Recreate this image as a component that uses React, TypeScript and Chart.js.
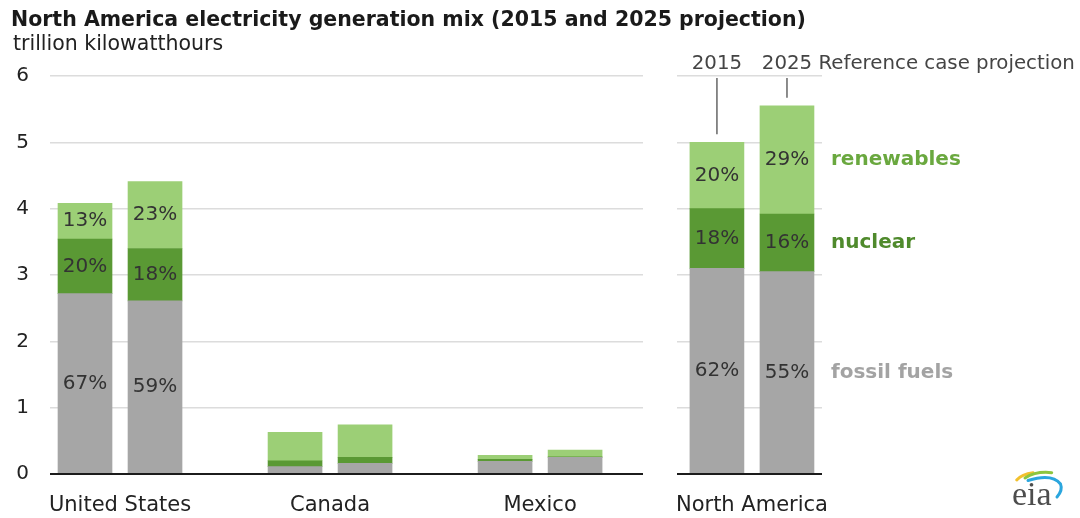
import React, { useEffect, useRef } from 'react';
import { Chart, registerables } from 'chart.js';

Chart.register(...registerables);

const FONT = "'DejaVu Sans', 'Liberation Sans', sans-serif";

// ---------- data ----------
const countries = ['United States', 'Canada', 'Mexico'];
const years = ['2015', '2025'];
// bar order: US 2015, US 2025, Canada 2015, Canada 2025, Mexico 2015, Mexico 2025
const fossil = [2.72, 2.61, 0.11, 0.16, 0.19, 0.25];
const nuclear = [0.82, 0.79, 0.09, 0.09, 0.03, 0.01];
const renewables = [0.54, 1.01, 0.43, 0.49, 0.06, 0.1];
const showShares = [true, true, false, false, false, false];

const totalRegion = ['North America'];
const fossilNA = [3.1, 3.05];
const nuclearNA = [0.9, 0.87];
const renewablesNA = [1.0, 1.63];
const showSharesNA = [true, true];

const seriesNames = ['fossil fuels', 'nuclear', 'renewables'];
const seriesColors = ['#a6a6a6', '#5a9934', '#9ccf76'];
const seriesTextColors = ['#a3a3a3', '#4f8a2c', '#6aa83f'];
const yTicks = [0, 1, 2, 3, 4, 5, 6];
const projectionNote = 'Reference case projection';
const titleText = 'North America electricity generation mix (2015 and 2025 projection)';
const unitText = 'trillion kilowatthours';

// ---------- helpers ----------
const barSlot = (i: number) => Math.floor(i / 2) * 3 + (i % 2) + 0.5;
const groupCenter = (g: number) => g * 3 + 1;

const zeroLinePlugin = {
  id: 'zeroLine',
  afterDatasetsDraw(chart: any) {
    const ctx = chart.ctx;
    const y = chart.scales.y.getPixelForValue(0);
    const { left, right } = chart.chartArea;
    ctx.save();
    ctx.strokeStyle = '#1c1c1c';
    ctx.lineWidth = 2;
    ctx.beginPath();
    ctx.moveTo(left, y);
    ctx.lineTo(right, y);
    ctx.stroke();
    ctx.restore();
  },
};

const makeSharesPlugin = (series: number[][], show: boolean[]) => ({
  id: 'shares',
  afterDatasetsDraw(chart: any) {
    const ctx = chart.ctx;
    ctx.save();
    ctx.font = `20px ${FONT}`;
    ctx.fillStyle = '#333333';
    ctx.textAlign = 'center';
    ctx.textBaseline = 'middle';
    series.forEach((vals, s) => {
      const meta = chart.getDatasetMeta(s);
      meta.data.forEach((el: any, i: number) => {
        if (!show[i]) return;
        const total = series.reduce((a, arr) => a + arr[i], 0);
        const p = Math.round((vals[i] / total) * 100);
        ctx.fillText(p + '%', el.x, (el.y + el.base) / 2);
      });
    });
    ctx.restore();
  },
});

const annotationPlugin = {
  id: 'naNotes',
  afterDraw(chart: any) {
    const ctx = chart.ctx;
    const yScale = chart.scales.y;
    const top = yScale.getPixelForValue(6);
    const topMeta = chart.getDatasetMeta(2);
    ctx.save();
    ctx.strokeStyle = '#666666';
    ctx.lineWidth = 1.5;
    topMeta.data.forEach((el: any) => {
      ctx.beginPath();
      ctx.moveTo(el.x, top + 2);
      ctx.lineTo(el.x, el.y - 8);
      ctx.stroke();
    });
    ctx.font = `19.8px ${FONT}`;
    ctx.fillStyle = '#444444';
    ctx.textBaseline = 'alphabetic';
    const b0 = topMeta.data[0];
    const b1 = topMeta.data[1];
    ctx.textAlign = 'center';
    ctx.fillText(years[0], b0.x, top - 7);
    ctx.textAlign = 'left';
    const w = ctx.measureText(years[1]).width;
    ctx.fillText(`${years[1]} ${projectionNote}`, b1.x - w / 2, top - 7);

    ctx.font = `bold 20px ${FONT}`;
    ctx.textBaseline = 'middle';
    seriesNames.forEach((name, s) => {
      const el: any = chart.getDatasetMeta(s).data[1];
      ctx.fillStyle = seriesTextColors[s];
      ctx.fillText(name, el.x + el.width / 2 + 17, (el.y + el.base) / 2);
    });
    ctx.restore();
  },
};

const yScaleOptions = (showLabels: boolean, width: number) => ({
  stacked: true,
  min: 0,
  max: 6,
  afterBuildTicks: (axis: any) => {
    axis.ticks = yTicks.map((v) => ({ value: v }));
  },
  ticks: {
    display: showLabels,
    font: { family: FONT, size: 20 },
    color: '#222222',
    padding: 21,
  },
  grid: {
    color: (c: any) => (c.tick && c.tick.value === 0 ? 'rgba(0,0,0,0)' : '#dcdcdc'),
    lineWidth: 1.5,
    drawTicks: false,
  },
  border: { display: false },
  afterFit: (axis: any) => {
    axis.width = width;
  },
});

const xScaleOptions = (labels: string[], min: number, max: number) => ({
  type: 'linear',
  stacked: true,
  offset: false,
  min,
  max,
  afterBuildTicks: (axis: any) => {
    axis.ticks = labels.map((_, g) => ({ value: groupCenter(g) }));
  },
  ticks: {
    autoSkip: false,
    maxRotation: 0,
    font: { family: FONT, size: 21 },
    color: '#222222',
    padding: 19,
    callback: (_v: any, index: number) => labels[index],
  },
  grid: { display: false, drawTicks: false },
  border: { display: false },
  afterFit: (axis: any) => {
    axis.height = 44;
    axis.paddingLeft = 0;
    axis.paddingRight = 0;
  },
});

const buildDatasets = (series: number[][]) =>
  seriesNames.map((name, s) => ({
    label: name,
    data: series[s].map((v, i) => ({ x: barSlot(i), y: v })),
    backgroundColor: seriesColors[s],
    borderWidth: 0,
    barThickness: 54,
  }));

export default function App() {
  const leftRef = useRef<HTMLCanvasElement | null>(null);
  const rightRef = useRef<HTMLCanvasElement | null>(null);

  useEffect(() => {
    const seriesLeft = [fossil, nuclear, renewables];
    const seriesRight = [fossilNA, nuclearNA, renewablesNA];

    const left = new Chart(leftRef.current as HTMLCanvasElement, {
      type: 'bar',
      data: { datasets: buildDatasets(seriesLeft) as any },
      options: {
        responsive: false,
        animation: false,
        layout: { padding: { top: 76, right: 17, left: 0, bottom: 0 } },
        plugins: { legend: { display: false }, tooltip: { enabled: false }, title: { display: false } },
        scales: {
          x: xScaleOptions(countries, 0, 8.47) as any,
          y: yScaleOptions(true, 50) as any,
        },
      },
      plugins: [zeroLinePlugin, makeSharesPlugin(seriesLeft, showShares)],
    });

    const right = new Chart(rightRef.current as HTMLCanvasElement, {
      type: 'bar',
      data: { datasets: buildDatasets(seriesRight) as any },
      options: {
        responsive: false,
        animation: false,
        layout: { padding: { top: 76, right: 258, left: 0, bottom: 0 } },
        plugins: { legend: { display: false }, tooltip: { enabled: false }, title: { display: false } },
        scales: {
          x: xScaleOptions(totalRegion, -0.07, 2.0) as any,
          y: yScaleOptions(false, 17) as any,
        },
      },
      plugins: [zeroLinePlugin, makeSharesPlugin(seriesRight, showSharesNA), annotationPlugin],
    });

    return () => {
      left.destroy();
      right.destroy();
    };
  }, []);

  return (
    <div
      style={{
        position: 'absolute',
        left: 0,
        top: 0,
        width: 1080,
        height: 518,
        background: '#ffffff',
        overflow: 'hidden',
        fontFamily: FONT,
      }}
    >
      <canvas ref={leftRef} width={660} height={518} style={{ position: 'absolute', left: 0, top: 0 }} />
      <canvas ref={rightRef} width={420} height={518} style={{ position: 'absolute', left: 660, top: 0 }} />
      <div
        style={{
          position: 'absolute',
          left: 11,
          top: 9.4,
          fontSize: 20.5,
          lineHeight: 1,
          fontWeight: 'bold',
          color: '#1a1a1a',
          whiteSpace: 'nowrap',
        }}
      >
        {titleText}
      </div>
      <div
        style={{
          position: 'absolute',
          left: 13,
          top: 33.4,
          fontSize: 20.5,
          lineHeight: 1,
          color: '#222222',
          whiteSpace: 'nowrap',
        }}
      >
        {unitText}
      </div>
      <svg
        width={70}
        height={45}
        style={{ position: 'absolute', left: 1000, top: 462 }}
        viewBox="0 0 70 45"
      >
        <path d="M 16.7 18 Q 22 12 33 10.7" stroke="#f2c12e" strokeWidth={3} fill="none" strokeLinecap="round" />
        <path d="M 25 16 Q 36 9 51.7 10.7" stroke="#8dc63f" strokeWidth={3} fill="none" strokeLinecap="round" />
        <path d="M 28 18.5 Q 52 11 60.5 22 Q 63 28 57 35" stroke="#2ba6de" strokeWidth={3} fill="none" strokeLinecap="round" />
      </svg>
      <div
        style={{
          position: 'absolute',
          left: 1012,
          top: 477.4,
          fontSize: 34,
          lineHeight: 1,
          fontFamily: "'Liberation Serif', serif",
          color: '#4d4d4d',
        }}
      >
        eia
      </div>
    </div>
  );
}
